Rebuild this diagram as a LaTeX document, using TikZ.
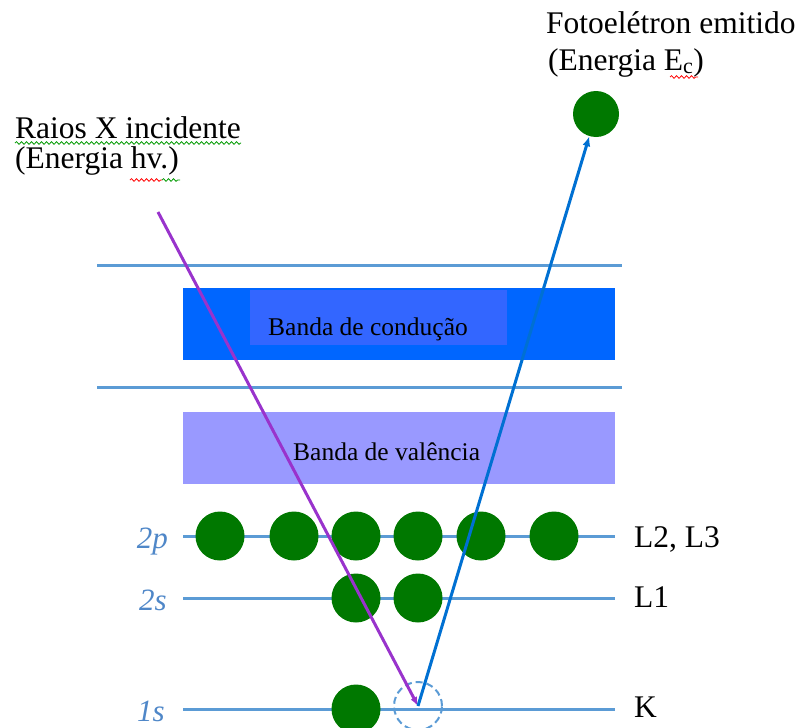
\documentclass[tikz,border=0pt]{standalone}
\usepackage{fontspec}
\setmainfont{Liberation Serif}
\usetikzlibrary{arrows.meta,decorations.pathmorphing}
\definecolor{levelblue}{RGB}{91,155,213}
\definecolor{condblue}{RGB}{0,102,255}
\definecolor{condinner}{RGB}{51,102,255}
\definecolor{valblue}{RGB}{153,153,255}
\definecolor{elgreen}{RGB}{0,120,0}
\definecolor{raypurple}{RGB}{153,51,204}
\definecolor{outblue}{RGB}{0,112,210}
\definecolor{orbblue}{RGB}{79,135,200}

\begin{document}
\begin{tikzpicture}[x=1pt,y=-1pt,
  electron/.style={circle,fill=elgreen,minimum size=49pt,inner sep=0pt},
  hole/.style={circle,draw=levelblue,dash pattern=on 7pt off 4pt,line width=2pt,minimum size=48pt,inner sep=0pt},
  level/.style={levelblue,line width=3pt},
  txt/.style={anchor=base west,inner sep=0pt,font=\fontsize{31.5}{31.5}\selectfont},
  orb/.style={anchor=base east,inner sep=0pt,text=orbblue,font=\fontsize{31}{31}\selectfont\itshape},
  bandtxt/.style={anchor=base west,inner sep=0pt,font=\fontsize{25.5}{25.5}\selectfont},
  squiggle/.style={line width=0.8pt,decorate,decoration={snake,amplitude=1.3pt,segment length=5pt}}]
\useasboundingbox (0,0) rectangle (798,728);

% bandas
\fill[condblue] (183,288) rectangle (615,360);
\fill[condinner] (250,290) rectangle (507,345);
\fill[valblue] (183,412) rectangle (615,484);
\node[bandtxt] (cond) at (268,335) {Banda de condução};
\node[bandtxt] (val) at (293,460) {Banda de valência};
\draw[level] (97,265) -- (622,265);
\draw[level] (97,387) -- (622,387);

% niveis
\foreach \y in {536,598,709} \draw[level] (183,\y) -- (615,\y);
\node[orb] (o2p) at (168,548) {2p};
\node[orb] (o2s) at (167,610) {2s};
\node[orb] (o1s) at (165,721) {1s};
\node[txt] (l23) at (634,547) {L2, L3};
\node[txt] (l1) at (634,607) {L1};
\node[txt] (kk) at (634,717) {K};

% eletrons
\foreach \x [count=\i] in {220,294,356,418,481,554} \node[electron] (p\i) at (\x,536) {};
\node[electron] (s1) at (356,598) {};
\node[electron] (s2) at (418,598) {};
\node[electron] (k1) at (356,709) {};
\node[hole] (k2) at (418,706) {};
\node[electron,minimum size=46pt] (photo) at (596,114) {};

% textos
\node[txt] (raios) at (15,138) {Raios X incidente};
\node[txt] (energia) at (15,168) {(Energia hv.)};
\node[txt] (foto) at (546,33) {Fotoelétron emitido};
\node[txt] (ec) at (548,70) {(Energia E\textsubscript{c})};
\draw[squiggle,green!60!black] ([yshift=-5pt]raios.base west) -- ([yshift=-5pt]raios.base east);
\draw[squiggle,red] (130,180) -- (162,180);
\draw[squiggle,green!60!black] (162,180) -- (180,180);
\draw[squiggle,red] (670,77) -- (698,77);

% raios
\coordinate (xin) at (158,212);
\draw[raypurple,line width=3pt,-{Latex[length=9pt,width=7pt]}] (xin) -- (k2.center);
\draw[outblue,line width=3pt,-{Latex[length=10pt,width=8pt]}] (k2.center) -- (photo);
\end{tikzpicture}
\end{document}
